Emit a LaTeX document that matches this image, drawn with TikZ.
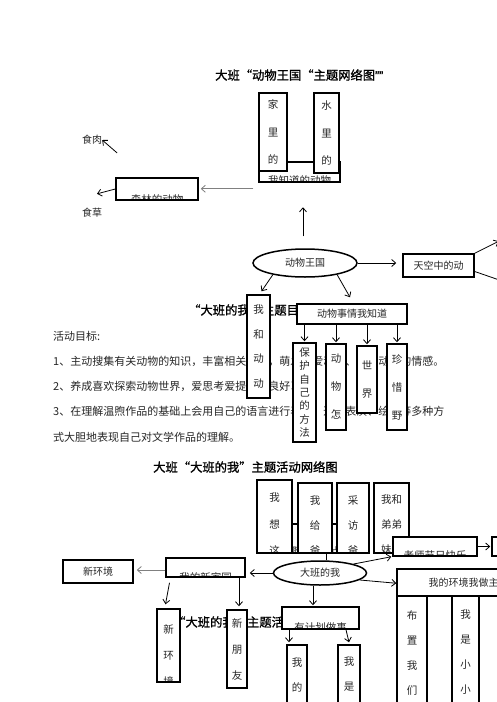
\documentclass[tikz,border=0pt]{standalone}
\usepackage{fontspec}
\usepackage{xcolor}
\usepackage{tikz}
\usetikzlibrary{shapes.geometric, arrows.meta, positioning, calc}
\newfontfamily\cjk{Noto Sans CJK SC}
\newfontfamily\cjkbf{Noto Sans CJK SC}[FakeBold=1.2]
\newfontfamily\latq{Liberation Sans}[FakeBold=1.2]

\begin{document}
\begin{tikzpicture}[
    x=1pt, y=-1pt,
    box/.style={rectangle, draw, fill=white, line width=1.5pt, inner sep=0pt, text=black!85, font=\cjk\fontsize{10}{12}\selectfont},
    vbox/.style={box, align=center, font=\cjk\fontsize{10.5}{#1}\selectfont},
    vbox/.default=25,
    oval/.style={ellipse, draw, fill=white, line width=1.5pt, inner sep=0pt, text=black!85, font=\cjk\fontsize{10}{12}\selectfont},
    cuttxt/.style n args={3}{path picture={\node[align=center, text=black!85, font=\cjk\fontsize{10.5}{#2}\selectfont] at ([yshift=#1]path picture bounding box.center) {#3};}},
    arrow/.style={-{Straight Barb[length=4pt, width=7pt]}, line width=0.8pt},
    small/.style={inner sep=0pt, text=black!85, font=\cjk\fontsize{10}{12}\selectfont},
    body/.style={anchor=west, inner sep=0pt, text=black!85, font=\cjk\fontsize{11}{13}\selectfont},
    head/.style={anchor=west, inner sep=0pt, font=\cjkbf\fontsize{12.3}{14}\selectfont}
]
\useasboundingbox (0,0) rectangle (496,702);
\fill[white] (0,0) rectangle (496,702);

% Titles and goals
\node[head] (t1) at (215,75) {大班“动物王国“主题网络图{\latq ””}};
\node[head] (t2) at (188,310) {“大班的我”主题目标};
\node[body] (g0) at (53,336) {活动目标:};
\node[body] (g1) at (53,361) {1、主动搜集有关动物的知识，丰富相关经验，萌发关爱动物、保护动物的情感。};
\node[body] (g2) at (53,386) {2、养成喜欢探索动物世界，爱思考爱提问的良好习惯。};
\node[body] (g3) at (53,411) {3、在理解温煦作品的基础上会用自己的语言进行表述，通过表演、绘画等多种方};
\node[body] (g4) at (53,437) {式大胆地表现自己对文学作品的理解。};
\node[head] (t3) at (153,467) {大班“大班的我”主题活动网络图};
\node[head] (t4) at (173,622) {“大班的我”主题活动目标};

% Animal kingdom web
\node[small] (meat) at (92,140) {食肉};
\node[small, below=63pt of meat] (grass) {食草};
\node[box, minimum width=81, minimum height=20, cuttxt={-9pt}{12}{我知道的动物}] (know) at (299.5,172) {};
\node[vbox=27.5, minimum width=28, minimum height=78] (home) at (273,132) {家\\里\\的};
\node[vbox=27.5, minimum width=25, minimum height=80] (water) at (326.5,133) {水\\里\\的};
\node[box, minimum width=82, minimum height=22, cuttxt={-10pt}{12}{森林的动物}] (forest) at (157,189) {};
\node[oval, minimum width=104, minimum height=28] (zoo) at (305,263) {动物王国};
\node[box, minimum width=71, minimum height=23] (sky) at (438.5,265.5) {天空中的动};
\node[vbox=24.7, minimum width=23, minimum height=103] (meanimal) at (258.5,346.5) {我\\和\\动\\动};
\node[box, minimum width=110, minimum height=20] (facts) at (352,314) {动物事情我知道};
\node[vbox=13.3, minimum width=23, minimum height=99] (protect) at (304.5,392.5) {保\\护\\自\\己\\的\\方\\法};
\node[vbox=28, minimum width=20, minimum height=86] (how) at (336,387) {动\\物\\怎};
\node[vbox=28, minimum width=20, minimum height=67] (world) at (367,379.5) {世\\界};
\node[vbox=28, minimum width=20, minimum height=86] (treasure) at (397,387) {珍\\惜\\野};

% Big class web
\node[box, minimum width=100, minimum height=29, cuttxt={-12.5pt}{12}{有趣的节日点滴}] (fun) at (315,538.5) {};
\node[box, minimum width=35, minimum height=73, cuttxt={-8pt}{26.5}{我\\想\\这}] (think) at (274.5,516.5) {};
\node[box, minimum width=34, minimum height=70, cuttxt={-7pt}{25}{我\\给\\爸}] (give) at (315,518) {};
\node[box, minimum width=32, minimum height=70, cuttxt={-7pt}{25}{采\\访\\爸}] (visit) at (353,518) {};
\node[box, minimum width=35, minimum height=70, cuttxt={-7pt}{25}{我和\\弟弟\\妹妹}] (sibling) at (391.5,518) {};
\node[box, minimum width=84, minimum height=19, cuttxt={-9.5pt}{12}{老师节日快乐}] (teacher) at (435,546.5) {};
\node[box, minimum width=48, minimum height=19] (gift) at (516,546.5) {};
\node[oval, minimum width=93, minimum height=24] (me) at (320,573) {大班的我};
\node[box, minimum width=79, minimum height=19, cuttxt={-9.5pt}{12}{我的新家园}] (newhome) at (205.5,567.5) {};
\node[box, minimum width=70, minimum height=23] (newenv) at (98,571.5) {新环境};
\node[box, minimum width=133, minimum height=27] (env) at (463.5,582.5) {我的环境我做主};
\node[vbox, minimum width=30, minimum height=113] (col1) at (412,652.5) {布\\置\\我\\们};
\node[box, minimum width=25, minimum height=113] (col2) at (439.5,652.5) {};
\node[vbox, minimum width=27, minimum height=113] (col3) at (465.5,652.5) {我\\是\\小\\小};
\node[box, minimum width=51, minimum height=113] (col4) at (504.5,652.5) {};
\node[box, minimum width=23, minimum height=73, cuttxt={-9.5pt}{26}{新\\环\\境}] (vnewenv) at (168.5,645.5) {};
\node[vbox=26, minimum width=20, minimum height=78] (friend) at (237,649) {新\\朋\\友};
\node[box, minimum width=77, minimum height=22, cuttxt={-10pt}{12}{有计划做事}] (plan) at (320.5,618) {};
\node[vbox, minimum width=20, minimum height=59] (mine) at (297,674.5) {我\\的};
\node[vbox, minimum width=22, minimum height=59] (iam) at (349,674.5) {我\\是};

% Arrows, top web
\coordinate (gfrom) at ([xshift=-5pt,yshift=-6pt]know.south west);
\draw[arrow] ([xshift=15pt,yshift=-13pt]meat.east) -- (meat.east);
\draw[arrow] (forest.west) -- ([xshift=5pt,yshift=14pt]grass.north);
\draw[arrow, gray] (gfrom) -- ([xshift=2pt]gfrom -| forest.east);
\draw[arrow] ([xshift=-2pt,yshift=12pt]zoo.north) -- ++(0,-29);
\draw[arrow] (zoo.east) -- ([xshift=-6pt]zoo.east -| sky.west);
\draw[arrow] (zoo.-160) -- ([xshift=3pt,yshift=3pt]meanimal.north);
\draw[arrow] (zoo.-20) -- ([xshift=-2pt,yshift=6pt]facts.north);
\draw[arrow] (sky.north east) -- ++(24,-12);
\draw[line width=0.8pt] ([yshift=-6pt]sky.east) -- ++(26,9);
\foreach \bx in {protect, how, world, treasure}
    \draw[arrow] (\bx.north |- facts.south) -- ([yshift=1pt]\bx.north);

% Arrows, bottom web
\draw[line width=0.8pt] ([xshift=6pt]me.north) -- ([xshift=6pt]me.north |- fun.south);
\draw[arrow] (me.15) -- ([xshift=-1pt]teacher.south west);
\draw[arrow] (teacher.east) -- ([xshift=-1pt]gift.west);
\draw[arrow] (me.west) -- ([xshift=4pt]me.west -| newhome.east);
\draw[arrow, gray] ([yshift=-2.5pt]newhome.west) -- ([xshift=3pt,yshift=-2.5pt]newhome.west -| newenv.east);
\draw[arrow] ([xshift=-36pt,yshift=-5pt]newhome.south) -- ([xshift=-3pt,yshift=4pt]vnewenv.north);
\draw[arrow] ([xshift=2pt]friend.north |- newhome.south) -- ([xshift=2pt,yshift=3pt]friend.north);
\draw[arrow] ([xshift=-7pt]me.south) -- ([xshift=-7pt,yshift=1pt]me.south |- plan.north);
\draw[arrow] ([xshift=-8pt]mine.north |- plan.south) -- ([xshift=-8pt,yshift=2pt]mine.north);
\draw[arrow] ([xshift=-3pt]iam.north |- plan.south) -- ([yshift=2pt]iam.north);
\draw[arrow] (me.-10) -- ([yshift=-15pt]env.north west);
\end{tikzpicture}
\end{document}
